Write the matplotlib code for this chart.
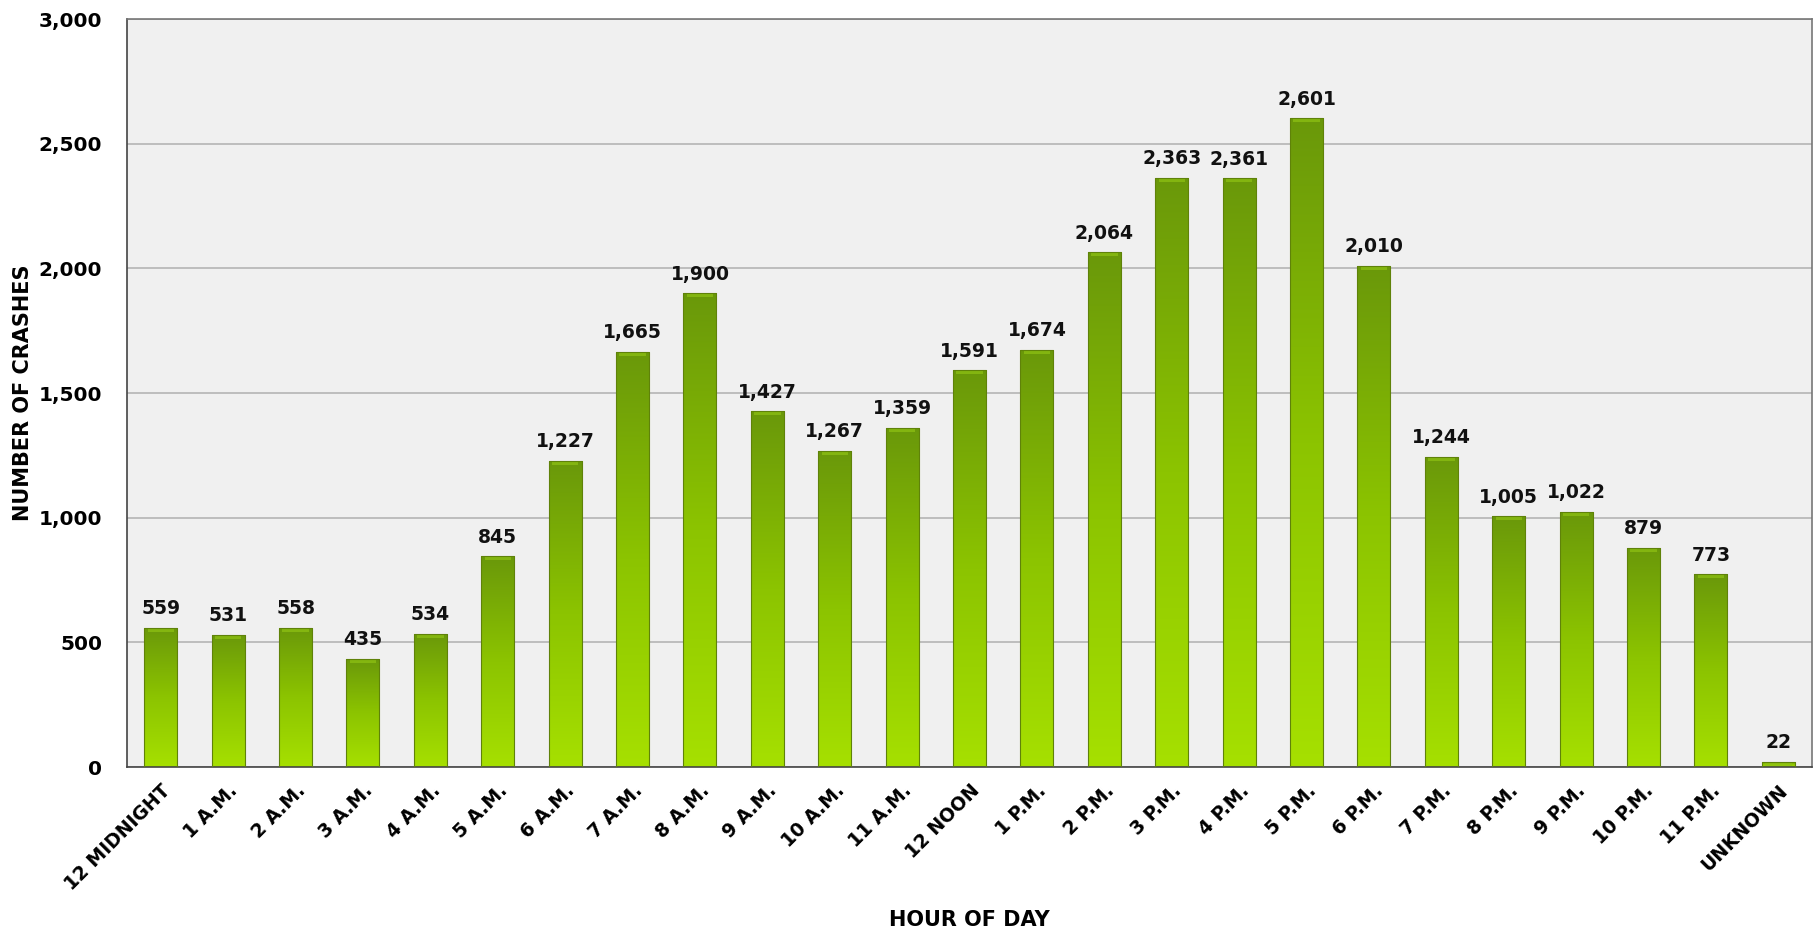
import numpy as np
import matplotlib
matplotlib.use("Agg")
import matplotlib.pyplot as plt
from matplotlib.colors import LinearSegmentedColormap
from matplotlib.ticker import FuncFormatter

hours = ["12 MIDNIGHT", "1 A.M.", "2 A.M.", "3 A.M.", "4 A.M.", "5 A.M.",
         "6 A.M.", "7 A.M.", "8 A.M.", "9 A.M.", "10 A.M.", "11 A.M.",
         "12 NOON", "1 P.M.", "2 P.M.", "3 P.M.", "4 P.M.", "5 P.M.",
         "6 P.M.", "7 P.M.", "8 P.M.", "9 P.M.", "10 P.M.", "11 P.M.", "UNKNOWN"]
crashes = [559, 531, 558, 435, 534, 845, 1227, 1665, 1900, 1427, 1267, 1359,
           1591, 1674, 2064, 2363, 2361, 2601, 2010, 1244, 1005, 1022, 879, 773, 22]

plt.rcParams['font.family'] = ['DejaVu Sans']
plt.rcParams['font.weight'] = 'bold'

fig = plt.figure(figsize=(18.18, 9.32), dpi=100)
ax = fig.add_axes([0.0699, 0.177, 0.9268, 0.8026])
ax.set_facecolor('#f0f0f0')

x = np.arange(len(hours))
bars = ax.bar(x, crashes, width=0.49, color='none', edgecolor='#5f8209',
              linewidth=0.8, zorder=3)

# vertical gradient: dark olive green at top -> bright lime at bottom
cmap = LinearSegmentedColormap.from_list('g', ['#a6e000', '#8cc400', '#6a980a'])
grad = np.linspace(0, 1, 256).reshape(-1, 1)
for b in bars:
    bx, by = b.get_x(), b.get_y()
    w, h = b.get_width(), b.get_height()
    im = ax.imshow(grad, cmap=cmap, aspect='auto', origin='lower',
                   extent=[bx, bx + w, by, by + h], zorder=2)
    im.set_clip_path(b)
    # subtle bevel at the top of each bar
    bev = min(h, 16)
    ax.bar(bx + w / 2, bev, bottom=h - bev, width=w * 0.8, color='#8fc214',
           alpha=0.7, linewidth=0, zorder=2.5)

for xi, v in zip(x, crashes):
    ax.annotate(f"{v:,}", (xi, v), xytext=(0, 7), textcoords='offset points',
                ha='center', va='bottom', fontsize=13.5, fontweight='bold',
                color='#111111', zorder=4)

ax.set_xlim(-0.5, len(hours) - 0.5)
ax.set_ylim(0, 3000)
ax.set_yticks(np.arange(0, 3001, 500))
ax.yaxis.set_major_formatter(FuncFormatter(lambda v, p: f"{int(v):,}"))
ax.grid(axis='y', color='#b4b4b4', linewidth=1.2, zorder=1)
ax.set_axisbelow(True)

ax.set_xticks(x)
ax.set_xticklabels(hours, rotation=45, ha='right', rotation_mode='anchor',
                   fontsize=13.5, fontweight='bold')
ax.tick_params(axis='x', length=0, pad=10)
ax.tick_params(axis='y', labelsize=14.5, length=0, pad=18)

for s in ax.spines.values():
    s.set_color('#777777')
    s.set_linewidth(1.2)
ax.spines['left'].set_color('#444444')
ax.spines['bottom'].set_color('#444444')

ax.set_ylabel("NUMBER OF CRASHES", fontsize=15, fontweight='bold', labelpad=4)
ax.set_xlabel("HOUR OF DAY", fontsize=15, fontweight='bold', labelpad=12)

fig.savefig("out.png", dpi=100)
